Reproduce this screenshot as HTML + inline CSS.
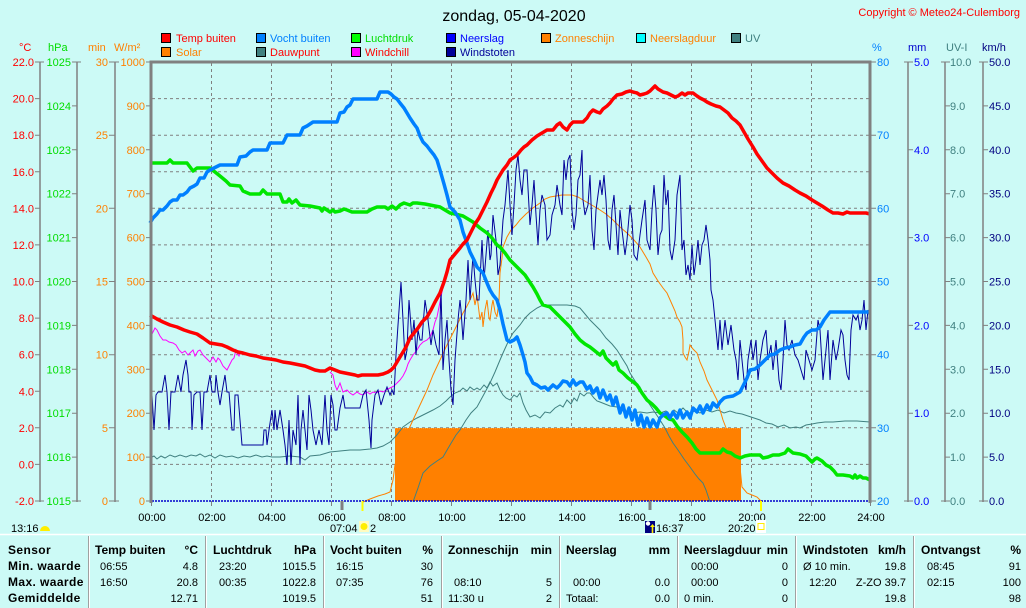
<!DOCTYPE html>
<html><head><meta charset="utf-8"><style>
html,body{margin:0;padding:0;background:#ccfaf6;}
svg{display:block;}
text{font-family:"Liberation Sans",sans-serif;font-size:11px;}
.b{font-weight:bold;font-size:12px;fill:#000;}
.r{fill:#000;}
</style></head><body>
<svg width="1026" height="608" viewBox="0 0 1026 608" xmlns="http://www.w3.org/2000/svg">
<rect x="0" y="0" width="1026" height="608" fill="#ccfaf6"/>
<!-- title -->
<text x="514" y="21" text-anchor="middle" style="font-size:16px" fill="#000">zondag, 05-04-2020</text>
<text x="1020" y="16" text-anchor="end" fill="#ff0000" style="font-size:11px">Copyright © Meteo24-Culemborg</text>

<!-- legend -->
<g stroke="#000" stroke-width="1">
<rect x="161.5" y="33.5" width="9" height="9" fill="#ff0000"/>
<rect x="256.5" y="33.5" width="9" height="9" fill="#0080ff"/>
<rect x="351.5" y="33.5" width="9" height="9" fill="#00ff00"/>
<rect x="446.5" y="33.5" width="9" height="9" fill="#0000ff"/>
<rect x="541.5" y="33.5" width="9" height="9" fill="#ff8000"/>
<rect x="636.5" y="33.5" width="9" height="9" fill="#00ffff"/>
<rect x="731.5" y="33.5" width="9" height="9" fill="#408080"/>
<rect x="161.5" y="47.5" width="9" height="9" fill="#ff8000"/>
<rect x="256.5" y="47.5" width="9" height="9" fill="#408080"/>
<rect x="351.5" y="47.5" width="9" height="9" fill="#ff00ff"/>
<rect x="446.5" y="47.5" width="9" height="9" fill="#000099"/>
</g>
<text x="176" y="42" fill="#ff0000">Temp buiten</text>
<text x="270" y="42" fill="#0080ff">Vocht buiten</text>
<text x="365" y="42" fill="#00dd00">Luchtdruk</text>
<text x="460" y="42" fill="#0000ff">Neerslag</text>
<text x="555" y="42" fill="#ff8000">Zonneschijn</text>
<text x="650" y="42" fill="#ff8000">Neerslagduur</text>
<text x="745" y="42" fill="#408080">UV</text>
<text x="176" y="56" fill="#ff8000">Solar</text>
<text x="270" y="56" fill="#ff0000">Dauwpunt</text>
<text x="365" y="56" fill="#ff0000">Windchill</text>
<text x="460" y="56" fill="#000099">Windstoten</text>

<!-- axis headers -->
<text x="19" y="51" fill="#ff0000">°C</text>
<text x="48" y="51" fill="#00dd00">hPa</text>
<text x="88" y="51" fill="#ff8000">min</text>
<text x="114" y="51" fill="#ff8000">W/m²</text>
<text x="872" y="51" fill="#0080ff">%</text>
<text x="908" y="51" fill="#0000cc">mm</text>
<text x="946" y="51" fill="#408080">UV-I</text>
<text x="982" y="51" fill="#000080">km/h</text>

<!-- axis lines -->
<g stroke="#808080" stroke-width="1.5">
<line x1="40" y1="62" x2="40" y2="502"/>
<line x1="77" y1="62" x2="77" y2="502"/>
<line x1="115" y1="62" x2="115" y2="502"/>
<line x1="908" y1="62" x2="908" y2="502"/>
<line x1="945" y1="62" x2="945" y2="502"/>
<line x1="983" y1="62" x2="983" y2="502"/>
</g>
<g stroke="#808080" stroke-width="1">
<!-- C ticks -->
<path d="M35 62H44M35 98.6H40M35 135.2H40M35 171.8H40M35 208.3H40M35 244.9H40M35 281.5H40M35 318.1H40M35 354.7H40M35 391.3H40M35 427.8H40M35 464.4H40M35 501H44"/>
<path d="M72 62H81M72 105.9H77M72 149.8H77M72 193.7H77M72 237.6H77M72 281.5H77M72 325.4H77M72 369.3H77M72 413.2H77M72 457.1H77M72 501H81"/>
<path d="M109 62H119M109 135.2H115M109 208.3H115M109 281.5H115M109 354.7H115M109 427.8H115M109 501H119"/>
<path d="M146 62H151M146 105.9H151M146 149.8H151M146 193.7H151M146 237.6H151M146 281.5H151M146 325.4H151M146 369.3H151M146 413.2H151M146 457.1H151M146 501H151"/>
<path d="M871 62H876M871 135.2H876M871 208.3H876M871 281.5H876M871 354.7H876M871 427.8H876M871 501H876"/>
<path d="M904 62H913M908 149.8H913M908 237.6H913M908 325.4H913M908 413.2H913M904 501H913"/>
<path d="M941 62H950M945 105.9H950M945 149.8H950M945 193.7H950M945 237.6H950M945 281.5H950M945 325.4H950M945 369.3H950M945 413.2H950M945 457.1H950M941 501H950"/>
<path d="M979 62H988M983 105.9H988M983 149.8H988M983 193.7H988M983 237.6H988M983 281.5H988M983 325.4H988M983 369.3H988M983 413.2H988M983 457.1H988M979 501H988"/>
</g>

<!-- left labels -->
<g fill="#ff0000" text-anchor="end">
<text x="34" y="66">22.0</text><text x="34" y="102.6">20.0</text><text x="34" y="139.2">18.0</text><text x="34" y="175.8">16.0</text><text x="34" y="212.3">14.0</text><text x="34" y="248.9">12.0</text><text x="34" y="285.5">10.0</text><text x="34" y="322.1">8.0</text><text x="34" y="358.7">6.0</text><text x="34" y="395.3">4.0</text><text x="34" y="431.8">2.0</text><text x="34" y="468.4">0.0</text><text x="34" y="505">-2.0</text>
</g>
<g fill="#00dd00" text-anchor="end">
<text x="71" y="66">1025</text><text x="71" y="109.9">1024</text><text x="71" y="153.8">1023</text><text x="71" y="197.7">1022</text><text x="71" y="241.6">1021</text><text x="71" y="285.5">1020</text><text x="71" y="329.4">1019</text><text x="71" y="373.3">1018</text><text x="71" y="417.2">1017</text><text x="71" y="461.1">1016</text><text x="71" y="505">1015</text>
</g>
<g fill="#ff8000" text-anchor="end">
<text x="108" y="66">30</text><text x="108" y="139.2">25</text><text x="108" y="212.3">20</text><text x="108" y="285.5">15</text><text x="108" y="358.7">10</text><text x="108" y="431.8">5</text><text x="108" y="505">0</text>
<text x="145" y="66">1000</text><text x="145" y="109.9">900</text><text x="145" y="153.8">800</text><text x="145" y="197.7">700</text><text x="145" y="241.6">600</text><text x="145" y="285.5">500</text><text x="145" y="329.4">400</text><text x="145" y="373.3">300</text><text x="145" y="417.2">200</text><text x="145" y="461.1">100</text><text x="145" y="505">0</text>
</g>
<!-- right labels -->
<g fill="#0080ff">
<text x="877" y="66">80</text><text x="877" y="139.2">70</text><text x="877" y="212.3">60</text><text x="877" y="285.5">50</text><text x="877" y="358.7">40</text><text x="877" y="431.8">30</text><text x="877" y="505">20</text>
</g>
<g fill="#0000ff">
<text x="914" y="66">5.0</text><text x="914" y="153.8">4.0</text><text x="914" y="241.6">3.0</text><text x="914" y="329.4">2.0</text><text x="914" y="417.2">1.0</text><text x="914" y="505">0.0</text>
</g>
<g fill="#408080">
<text x="950" y="66">10.0</text><text x="950" y="109.9">9.0</text><text x="950" y="153.8">8.0</text><text x="950" y="197.7">7.0</text><text x="950" y="241.6">6.0</text><text x="950" y="285.5">5.0</text><text x="950" y="329.4">4.0</text><text x="950" y="373.3">3.0</text><text x="950" y="417.2">2.0</text><text x="950" y="461.1">1.0</text><text x="950" y="505">0.0</text>
</g>
<g fill="#000080">
<text x="989" y="66">50.0</text><text x="989" y="109.9">45.0</text><text x="989" y="153.8">40.0</text><text x="989" y="197.7">35.0</text><text x="989" y="241.6">30.0</text><text x="989" y="285.5">25.0</text><text x="989" y="329.4">20.0</text><text x="989" y="373.3">15.0</text><text x="989" y="417.2">10.0</text><text x="989" y="461.1">5.0</text><text x="989" y="505">0.0</text>
</g>

<!-- grid -->
<g stroke="#808080" stroke-width="1" stroke-dasharray="3,3">
<path d="M152 98.6H870M152 135.2H870M152 171.8H870M152 208.3H870M152 244.9H870M152 281.5H870M152 318.1H870M152 354.7H870M152 391.3H870M152 427.8H870M152 464.4H870"/>
<path d="M211.5 63V501M271.5 63V501M331.5 63V501M391.5 63V501M451.5 63V501M511.5 63V501M571.5 63V501M631.5 63V501M691.5 63V501M751.5 63V501M811.5 63V501"/>
</g>

<!-- sunshine bar -->
<rect x="395" y="428" width="346" height="73" fill="#ff8000"/>
<line x1="395" y1="428.5" x2="741" y2="428.5" stroke="#ff9a30" stroke-width="1" stroke-dasharray="1,1"/>

<!-- UV -->
<polyline fill="none" stroke="#408080" stroke-width="1" points="413,502 418,488 423,473 430,466 437,461 443,457 450,445 456,435 460,430 466,420 471,413 477,407 483,396 490,383 495,372 500,360 503,353 508,342 513,333 520,325 525,318 530,313 537,308 543,305 555,305 567,305 575,306 580,308 585,314 590,320 595,325 600,330 606,338 612,344 617,350 622,358 627,366 630,373 635,381 640,387 643,393 648,402 654,411 660,420 665,428 669,436 673,443 678,450 684,459 690,467 695,474 699,479 703,483 706,490 708,496 710,502"/>
<!-- Dauwpunt -->
<polyline fill="none" stroke="#408080" stroke-width="1" points="150,458 154,456 157,459 161,456 165,458 170,455 175,457 180,455 186,457 191,455 196,456 200,454 205,457 210,455 215,458 220,455 226,457 232,456 238,458 244,456 250,457 256,455 262,457 267,456 272,457 280,457 290,456 300,457 305,460 310,456 320,455 330,452 340,451 350,450 360,450 370,449 377,448 383,446 390,442 396,436 403,427 410,422 417,418 425,414 433,410 440,406 446,401 450,397 455,393 460,391 463,388 467,391 470,387 474,390 477,388 480,390 484,385 487,388 490,382 493,386 497,383 500,390 503,395 506,398 510,400 514,395 517,397 520,393 523,403 526,410 530,417 535,415 540,418 545,412 550,413 555,408 560,405 563,407 567,400 571,404 574,398 577,401 580,393 584,396 587,393 590,393 594,398 597,401 600,402 605,404 610,406 617,407 622,410 628,412 633,413 640,412 647,413 653,412 660,413 666,411 670,415 674,410 678,413 683,408 687,412 690,413 695,411 700,413 706,410 712,412 718,410 724,413 730,411 736,413 742,414 748,416 754,418 760,420 766,423 772,424 778,427 784,425 790,428 796,427 800,428 806,425 812,424 817,423 825,422 833,422 845,421 857,421 870,422"/>
<!-- Solar -->
<polyline fill="none" stroke="#ff8000" stroke-width="1" points="363,502 370,499 378,496 385,494 390,492 393,480 395,465 399,452 403,443 408,431 413,420 420,405 427,390 433,375 440,360 446,347 453,333 458,323 463,313 467,306 470,300 473,293 475,305 477,295 480,320 482,312 483,327 485,310 487,300 489,318 490,320 492,305 493,300 495,312 497,317 499,300 500,273 502,258 503,247 507,237 511,230 516,225 520,220 526,214 533,208 540,203 545,199 550,197 556,196 562,195 567,195 572,195 578,197 583,200 590,204 595,207 600,210 606,214 613,220 620,227 627,233 634,240 640,247 646,257 650,264 653,273 658,281 663,288 667,293 671,302 675,311 677,317 680,322 682,327 683,340 683,353 685,357 687,360 689,351 690,345 693,349 697,353 700,362 704,371 707,380 711,388 717,400 720,410 723,420 728,433 733,447 736,456 740,467 742,487 747,493 752,495 757,497 760,500 762,502"/>
<!-- Windchill -->
<polyline fill="none" stroke="#ff00ff" stroke-width="1" points="150,327 152,334 153,332 155,328 157,330 160,336 163,340 166,340 169,342 173,343 176,345 179,350 182,353 185,351 188,355 190,353 193,350 195,356 198,351 200,350 203,355 206,358 208,360 210,362 213,357 216,362 218,358 220,360 223,366 225,368 227,370 230,364 232,360 234,358 236,350 237,353 239,356 240,353 243,352"/>
<polyline fill="none" stroke="#ff00ff" stroke-width="1" points="330,372 333,375 335,385 337,390 340,383 343,392 347,390 350,393 353,395 357,392 360,394 363,395 367,392 370,394 373,392 376,393 380,391 383,392 386,390 390,388 394,386 397,383 400,380 403,376 406,370 408,364 410,360 413,355 417,350 420,345 423,342 427,340 430,337 433,330 435,322 437,317 440,302 443,287"/>
<!-- Windstoten -->
<polyline fill="none" stroke="#000099" stroke-width="1" points="150,395 151,375 152,395 154,430 156,395 158,392 162,392 165,375 167,392 169,430 171,392 175,392 178,375 181,392 183,375 186,360 188,375 189,392 191,392 192,430 194,395 197,392 200,392 202,430 204,392 207,392 210,375 212,392 215,392 216,375 218,392 220,405 222,392 225,375 227,392 229,392 232,430 234,430 235,395 238,395 240,420 242,445 246,445 250,445 255,445 260,445 263,445 264,430 266,430 267,445 269,430 272,410 274,430 275,410 277,430 280,410 283,430 285,445 287,465 289,420 291,465 293,430 296,445 298,395 300,465 301,430 303,410 305,430 307,450 309,395 311,410 313,430 316,445 319,430 322,445 325,395 327,430 329,445 331,395 333,405 335,430 337,430 340,408 343,395 345,408 350,408 355,408 360,408 363,395 366,390 369,420 371,448 372,420 375,395 378,390 381,405 384,395 387,387 390,395 392,390 394,395 396,355 398,325 401,282 403,320 405,360 407,350 409,300 412,340 414,320 416,355 418,330 420,340 422,340 425,300 428,320 431,345 433,330 436,345 439,355 441,290 443,370 445,340 447,320 449,360 451,390 453,405 455,360 458,320 460,300 461,310 463,340 466,300 468,260 470,300 473,255 475,280 477,300 479,300 482,240 484,280 486,255 488,230 490,260 491,255 493,215 496,240 498,275 500,265 503,220 505,205 508,170 510,205 512,235 514,205 516,170 518,155 520,180 522,195 524,170 527,170 530,225 532,205 534,180 536,215 538,245 540,210 542,195 545,205 547,240 550,235 552,215 555,205 557,185 560,205 562,215 564,160 566,180 568,160 570,155 572,210 574,230 576,215 578,180 580,175 582,150 583,200 585,215 588,205 590,175 592,230 594,250 596,210 598,195 600,180 602,195 604,175 606,200 608,240 610,250 612,210 614,195 616,225 618,255 620,210 622,230 625,255 627,240 630,205 632,220 634,255 637,260 640,235 642,220 645,200 647,240 650,250 652,210 654,185 656,210 658,255 660,235 662,230 664,175 666,205 668,190 670,250 672,260 675,240 677,195 680,175 682,250 684,240 686,275 688,265 690,280 692,245 694,275 696,260 698,240 700,265 702,245 704,240 706,225 708,240 710,260 711,290 713,300 716,330 718,350 720,320 722,350 725,320 728,345 731,325 734,350 736,360 738,380 740,340 742,360 744,380 746,390 748,360 751,340 753,360 756,340 758,380 760,360 763,340 766,330 768,360 771,345 773,370 776,340 779,380 781,390 783,360 785,320 787,345 789,350 792,340 795,355 798,360 801,370 804,380 806,350 809,360 812,370 815,360 818,320 820,330 823,380 825,360 828,330 830,380 833,340 836,360 838,350 841,330 843,335 845,360 847,375 849,380 851,330 853,315 856,320 858,315 860,330 862,320 864,300 866,330 868,310 870,320"/>
<!-- Luchtdruk -->
<polyline fill="none" stroke="#00e600" stroke-width="3.5" stroke-linejoin="round" points="150,163 167,163 170,160 173,163 187,163 193,171 197,168 210,168 220,176 226,181 230,185 240,186 243,191 250,194 260,194 263,190 267,194 280,194 283,202 287,202 289,199 292,203 296,200 300,205 310,206 320,208 322,211 324,208 330,212 333,210 335,212 340,211 344,209 347,210 352,212 367,212 372,209 377,207 385,207 388,209 392,206 396,209 400,205 404,203 410,205 413,203 417,203 425,204 430,205 440,207 450,213 455,214 463,216 468,219 473,222 480,228 487,233 492,238 497,245 500,247 505,253 510,260 515,265 520,270 525,275 529,281 533,287 537,294 540,300 543,305 550,307 555,312 560,317 565,322 570,327 575,334 580,340 585,344 590,347 595,351 600,355 603,351 606,358 610,362 613,365 616,362 619,370 623,373 628,378 632,381 637,385 642,393 647,400 652,404 656,408 660,413 665,416 669,419 673,420 677,426 682,432 687,437 692,443 696,449 700,453 710,453 720,453 723,449 727,452 731,453 735,456 740,458 745,456 750,455 760,455 763,458 768,457 773,455 779,455 785,453 788,449 793,453 800,454 806,456 810,460 812,462 815,459 817,458 822,461 826,465 830,467 834,471 837,475 843,475 850,476 853,478 855,475 857,478 860,476 863,478 866,478 870,480"/>
<!-- Vocht buiten -->
<polyline fill="none" stroke="#0080ff" stroke-width="3.5" stroke-linejoin="round" points="150,223 153,218 157,214 160,210 163,210 167,206 170,202 173,200 177,200 180,195 183,195 187,192 190,188 194,186 197,184 200,178 204,178 207,172 210,170 214,168 220,165 230,165 237,165 240,157 246,156 250,152 253,150 260,150 267,150 270,143 278,143 283,143 287,135 292,135 300,135 303,128 307,126 310,124 313,122 320,122 330,122 337,122 340,113 344,112 347,107 350,105 353,99 360,99 370,99 377,99 380,92 385,92 388,92 391,94 394,97 397,99 400,103 404,108 407,113 410,118 414,124 417,128 420,136 423,142 427,146 430,150 434,155 437,160 440,170 444,184 447,195 450,207 455,212 460,220 463,232 467,243 470,252 474,260 477,267 480,270 483,273 487,283 490,290 493,295 497,300 500,310 503,324 507,340 510,342 514,340 517,337 520,345 523,355 525,362 527,373 530,377 533,383 537,385 541,388 545,387 548,390 550,388 553,385 557,388 560,385 563,381 567,382 570,386 573,380 576,385 580,382 583,382 587,389 590,386 593,393 597,388 600,398 603,390 607,400 610,395 613,405 616,397 620,413 623,405 626,417 629,408 632,420 635,410 638,425 641,415 644,427 647,418 650,427 653,420 657,427 660,418 663,415 667,413 670,418 673,412 677,418 680,410 683,418 687,412 690,418 693,408 697,412 700,406 703,413 707,405 710,410 713,403 717,407 720,402 724,398 727,397 733,396 740,392 744,384 747,378 750,370 755,369 760,365 763,362 767,358 770,355 775,354 780,350 785,348 790,347 795,345 800,344 804,337 807,333 812,330 816,330 820,327 824,320 827,316 830,312 840,312 850,312 860,312 870,312"/>
<!-- Temp buiten -->
<polyline fill="none" stroke="#ff0000" stroke-width="3.5" stroke-linejoin="round" points="150,315 157,319 163,322 170,325 177,327 184,330 190,332 197,334 203,338 210,343 216,344 222,345 227,347 233,350 238,352 243,353 250,355 256,356 263,358 270,359 276,360 283,362 290,363 295,364 300,365 305,366 310,368 315,370 320,371 325,371 330,368 335,370 340,372 345,373 350,374 355,375 358,376 362,375 367,375 372,375 378,375 383,374 388,372 391,370 394,367 397,362 400,357 403,352 406,347 410,338 414,333 418,328 422,322 427,317 431,310 435,302 440,293 444,282 447,272 450,260 455,254 460,248 463,244 467,240 471,232 475,224 479,218 483,210 487,202 491,193 494,187 497,180 500,175 503,170 507,165 510,160 513,158 517,155 521,150 524,147 527,145 532,140 537,136 542,133 547,130 553,130 557,125 560,123 563,127 567,130 570,125 573,122 578,122 583,122 587,118 590,113 593,110 597,112 600,113 603,109 607,106 610,103 613,99 617,95 622,94 626,92 630,91 633,92 637,93 640,95 644,94 647,93 650,91 653,88 655,86 658,89 663,92 667,93 671,95 675,97 678,96 682,93 685,95 688,93 693,93 697,96 700,98 704,100 707,102 711,104 716,106 720,107 724,110 728,113 732,118 736,121 740,125 744,132 748,139 753,147 757,154 762,161 767,168 772,173 777,178 783,183 789,186 795,190 800,193 806,196 812,200 817,203 822,206 828,210 833,213 838,213 843,214 847,212 850,213 856,213 862,213 866,213 870,214"/>

<!-- bottom axis (dotted rain line) -->
<line x1="152" y1="501" x2="870" y2="501" stroke="#0000cc" stroke-width="1.5" stroke-dasharray="2,1"/>
<!-- plot frame -->
<g stroke="#808080" stroke-width="3" fill="none">
<path d="M151 503V62H870V503"/>
</g>
<!-- x ticks -->
<g stroke="#808080" stroke-width="1">
<path d="M151.5 501V506M211.5 501V506M271.5 501V506M331.5 501V506M391.5 501V506M451.5 501V506M511.5 501V506M571.5 501V506M631.5 501V506M691.5 501V506M751.5 501V506M811.5 501V506M870.5 501V506"/>
</g>
<g stroke="#808080" stroke-width="3"><path d="M342 501V510M650 501V510"/></g>
<g stroke="#ffff00" stroke-width="2"><path d="M362.5 501V511M761 501V511"/></g>
<!-- x labels -->
<g fill="#000" text-anchor="middle">
<text x="152" y="521">00:00</text><text x="212" y="521">02:00</text><text x="272" y="521">04:00</text><text x="332" y="521">06:00</text><text x="392" y="521">08:00</text><text x="452" y="521">10:00</text><text x="512" y="521">12:00</text><text x="572" y="521">14:00</text><text x="632" y="521">16:00</text><text x="692" y="521">18:00</text><text x="752" y="521">20:00</text><text x="812" y="521">22:00</text><text x="871" y="521">24:00</text>
</g>
<!-- sun/moon labels -->
<text x="11" y="532" fill="#000">13:16</text>
<path d="M40 531A5 5 0 0 1 50 531Z" fill="#ffee00"/>
<text x="330" y="532" fill="#000">07:04</text>
<rect x="359" y="521" width="10" height="11" fill="#fffbc0"/>
<circle cx="364" cy="526.5" r="3.5" fill="#ffee00"/>
<text x="370" y="532" fill="#000">2</text>
<rect x="645" y="521" width="10" height="12" fill="#000080"/>
<circle cx="648" cy="523.5" r="2.2" fill="#ffffff"/>
<path d="M650 527L652.5 524L655 527H653.3V533H651.7V527Z" fill="#ffee00"/>
<text x="656" y="532" fill="#000">16:37</text>
<text x="728" y="532" fill="#000">20:20</text>
<rect x="756" y="520" width="10" height="13" fill="#ffffff"/>
<rect x="758" y="523.5" width="6" height="6" fill="none" stroke="#ffee00" stroke-width="1"/>

<!-- table -->
<line x1="0" y1="534.5" x2="1026" y2="534.5" stroke="#ffffff" stroke-width="1.5"/>
<g stroke="#a0a0a0" stroke-width="1">
<path d="M88.5 536V608M205.5 536V608M323.5 536V608M441.5 536V608M559.5 536V608M677.5 536V608M795.5 536V608M913.5 536V608"/>
</g>
<g stroke="#ffffff" stroke-width="1">
<path d="M89.5 536V608M206.5 536V608M324.5 536V608M442.5 536V608M560.5 536V608M678.5 536V608M796.5 536V608M914.5 536V608"/>
</g>
<g class="b" style="letter-spacing:0.4px">
<text class="b" x="8" y="554">Sensor</text>
<text class="b" x="8" y="570">Min. waarde</text>
<text class="b" x="8" y="586">Max. waarde</text>
<text class="b" x="8" y="602">Gemiddelde</text>
</g>
<g>
<text class="b" x="95" y="554">Temp buiten</text><text class="b" x="198" y="554" text-anchor="end">°C</text>
<text class="b" x="213" y="554">Luchtdruk</text><text class="b" x="316" y="554" text-anchor="end">hPa</text>
<text class="b" x="330" y="554">Vocht buiten</text><text class="b" x="433" y="554" text-anchor="end">%</text>
<text class="b" x="448" y="554">Zonneschijn</text><text class="b" x="552" y="554" text-anchor="end">min</text>
<text class="b" x="566" y="554">Neerslag</text><text class="b" x="670" y="554" text-anchor="end">mm</text>
<text class="b" x="684" y="554">Neerslagduur</text><text class="b" x="788" y="554" text-anchor="end">min</text>
<text class="b" x="803" y="554">Windstoten</text><text class="b" x="906" y="554" text-anchor="end">km/h</text>
<text class="b" x="921" y="554">Ontvangst</text><text class="b" x="1021" y="554" text-anchor="end">%</text>
</g>
<g fill="#000" style="font-size:11.5px">
<text x="100" y="570">06:55</text><text x="198" y="570" text-anchor="end">4.8</text>
<text x="100" y="586">16:50</text><text x="198" y="586" text-anchor="end">20.8</text>
<text x="198" y="602" text-anchor="end">12.71</text>
<text x="219" y="570">23:20</text><text x="316" y="570" text-anchor="end">1015.5</text>
<text x="219" y="586">00:35</text><text x="316" y="586" text-anchor="end">1022.8</text>
<text x="316" y="602" text-anchor="end">1019.5</text>
<text x="336" y="570">16:15</text><text x="433" y="570" text-anchor="end">30</text>
<text x="336" y="586">07:35</text><text x="433" y="586" text-anchor="end">76</text>
<text x="433" y="602" text-anchor="end">51</text>
<text x="454" y="586">08:10</text><text x="552" y="586" text-anchor="end">5</text>
<text x="448" y="602">11:30 u</text><text x="552" y="602" text-anchor="end">2</text>
<text x="573" y="586">00:00</text><text x="670" y="586" text-anchor="end">0.0</text>
<text x="566" y="602">Totaal:</text><text x="670" y="602" text-anchor="end">0.0</text>
<text x="691" y="570">00:00</text><text x="788" y="570" text-anchor="end">0</text>
<text x="691" y="586">00:00</text><text x="788" y="586" text-anchor="end">0</text>
<text x="684" y="602">0 min.</text><text x="788" y="602" text-anchor="end">0</text>
<text x="803" y="570">Ø 10 min.</text><text x="906" y="570" text-anchor="end">19.8</text>
<text x="809" y="586">12:20</text><text x="906" y="586" text-anchor="end">Z-ZO 39.7</text>
<text x="906" y="602" text-anchor="end">19.8</text>
<text x="927" y="570">08:45</text><text x="1021" y="570" text-anchor="end">91</text>
<text x="927" y="586">02:15</text><text x="1021" y="586" text-anchor="end">100</text>
<text x="1021" y="602" text-anchor="end">98</text>
</g>
</svg>
</body></html>
